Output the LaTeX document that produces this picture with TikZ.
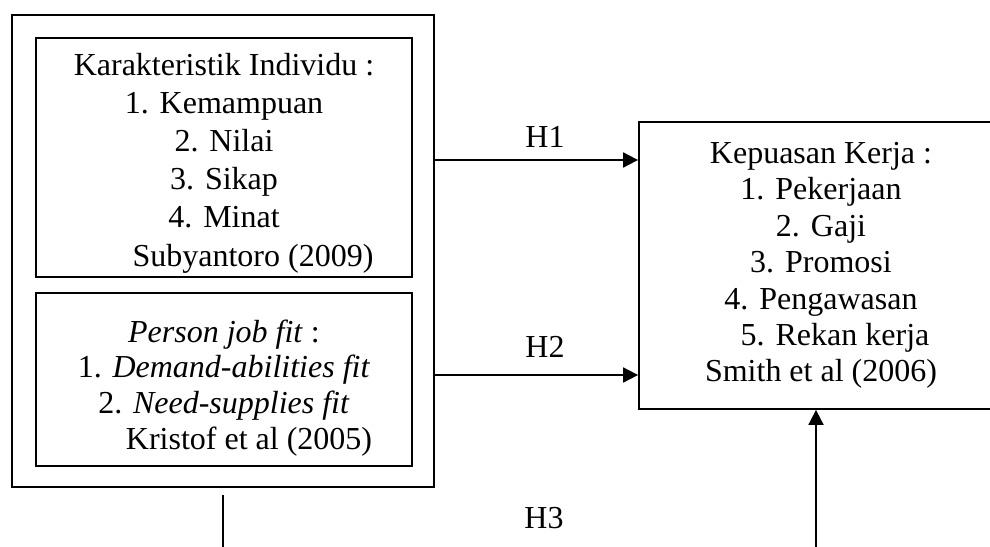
\documentclass[tikz,border=0pt]{standalone}
\usepackage{fontspec}
\setmainfont{Liberation Serif}
\usetikzlibrary{arrows.meta}

\begin{document}
\begin{tikzpicture}[x=1pt, y=-1pt,
    box/.style = {draw, line width=1.8pt, inner sep=0pt, align=center},
    arrow/.style = {line width=1.8pt, -{Triangle[length=15pt,width=15pt]}},
    bare/.style = {line width=1.8pt},
    txt/.style = {font=\fontsize{32}{37}\selectfont}]
    \useasboundingbox (0,0) rectangle (990,546);
    \clip (0,0) rectangle (990,546);

    \node[box, minimum width=422pt, minimum height=472pt] (outer) at (223,251) {};
    \node[box, minimum width=376pt, minimum height=239pt,
          font=\fontsize{32}{38.2}\selectfont] (indiv) at (224,157.5)
        {\rule{0pt}{33pt}Karakteristik Individu :\\
         1.\hspace{11pt}Kemampuan\\
         2.\hspace{11pt}Nilai\\
         3.\hspace{11pt}Sikap\\
         4.\hspace{11pt}Minat\\
         \hspace*{58pt}Subyantoro (2009)};
    \node[box, minimum width=376pt, minimum height=173pt,
          font=\fontsize{32}{35.7}\selectfont] (fit) at (224,379.5)
        {\rule{0pt}{39pt}\textit{Person job fit} :\\
         1. \textit{Demand-abilities fit}\\
         2. \textit{Need-supplies fit}\\
         \hspace*{50pt}Kristof et al (2005)};
    \node[box, minimum width=364pt, minimum height=287pt,
          font=\fontsize{32}{36.4}\selectfont] (kepuasan) at (821,265.5)
        {Kepuasan Kerja :\\
         1.\hspace{11pt}Pekerjaan\\
         2.\hspace{11pt}Gaji\\
         3.\hspace{11pt}Promosi\\
         4.\hspace{11pt}Pengawasan\\
         \hspace*{28pt}5.\hspace{11pt}Rekan kerja\\
         Smith et al (2006)};

    \node[txt] (hone) at (545,137) {H1};
    \node[txt] (htwo) at (545,347) {H2};
    \node[txt] (hthree) at (544,518) {H3};

    \coordinate (aone) at (0,160);
    \coordinate (atwo) at (0,375);
    \coordinate (leftFoot) at (223,495);
    \coordinate (leftEnd) at (223,552);
    \coordinate (rightEnd) at (816,552);

    \draw[arrow] (outer.east |- aone) -- (kepuasan.west |- aone);
    \draw[arrow] (outer.east |- atwo) -- (kepuasan.west |- atwo);
    \draw[bare] (leftFoot) -- (leftEnd);
    \draw[arrow] (rightEnd) -- (kepuasan.south -| rightEnd);
\end{tikzpicture}
\end{document}
